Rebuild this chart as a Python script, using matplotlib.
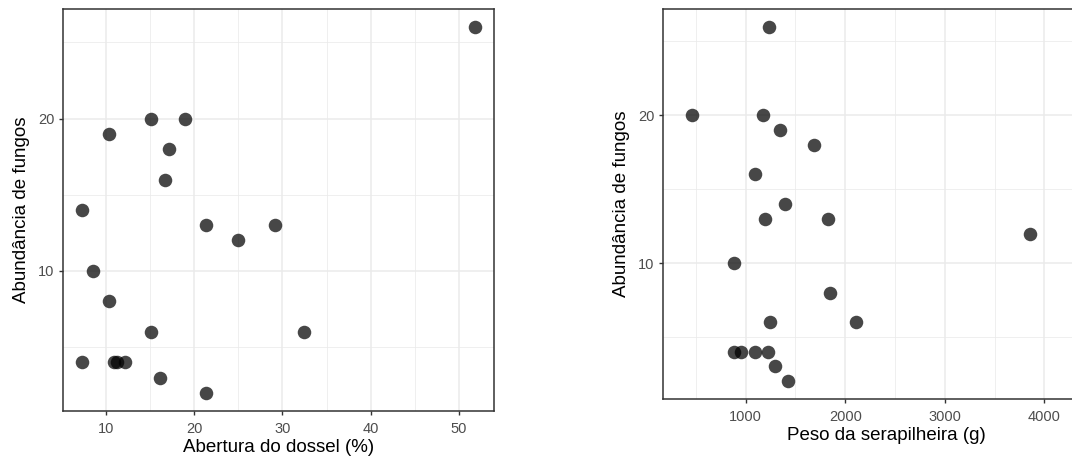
import matplotlib.pyplot as plt
from matplotlib.ticker import MultipleLocator

plt.rcParams['font.family'] = ['Liberation Sans', 'DejaVu Sans']

# data
abundancia = [26, 20, 20, 19, 18, 16, 14, 13, 13, 12, 10, 8, 6, 6, 4, 4, 4, 4, 3, 2]
abertura = [51.8, 15.1, 18.9, 10.3, 17.1, 16.7, 7.3, 21.3, 29.2, 24.9,
            8.5, 10.3, 15.1, 32.4, 7.3, 10.9, 11.2, 12.1, 16.1, 21.3]
abund_peso = [26, 20, 20, 19, 18, 16, 14, 13, 13, 12, 10, 8, 6, 6, 4, 4, 4, 4, 3, 2]
peso = [1234, 461, 1171, 1345, 1686, 1094, 1395, 1191, 1830, 3858,
        886, 1850, 1241, 2108, 886, 953, 1094, 1224, 1298, 1429]

W, H = 1072, 461
fig = plt.figure(figsize=(W/100, H/100), dpi=100)

def style(ax):
    ax.set_facecolor('white')
    for s in ax.spines.values():
        s.set_color('#333333')
        s.set_linewidth(1.1)
    ax.grid(which='major', color='#ebebeb', linewidth=1.1, zorder=0)
    ax.grid(which='minor', color='#ebebeb', linewidth=0.55, zorder=0)
    ax.set_axisbelow(True)
    ax.tick_params(which='major', length=3, width=1.0, color='#333333',
                   labelcolor='#4d4d4d', labelsize=10.5, pad=3)
    ax.tick_params(axis='x', which='major', pad=5)
    ax.tick_params(which='minor', length=0)
    ax.yaxis.set_major_locator(MultipleLocator(10))
    ax.yaxis.set_minor_locator(MultipleLocator(5))
    ax.set_ylim(0.8, 27.2)
    ax.set_ylabel('Abundância de fungos', fontsize=13.5, color='black', labelpad=6)

# left panel
ax1 = fig.add_axes([63/W, 1-411/H, (494-63)/W, (411-9)/H])
style(ax1)
ax1.scatter(abertura, abundancia, s=95, color='black', alpha=0.72, linewidths=0, zorder=3)
ax1.xaxis.set_major_locator(MultipleLocator(10))
ax1.xaxis.set_minor_locator(MultipleLocator(5))
ax1.set_xlim(5.1, 54.0)
ax1.set_xlabel('Abertura do dossel (%)', fontsize=13.5, color='black', labelpad=2)

# right panel (cut off at the right edge)
right_px = 1110
ax2 = fig.add_axes([663/W, 1-399/H, (right_px-663)/W, (399-9)/H])
style(ax2)
ax2.spines['right'].set_visible(False)
ax2.scatter(peso, abund_peso, s=95, color='black', alpha=0.72, linewidths=0, zorder=3)
ax2.xaxis.set_major_locator(MultipleLocator(1000))
ax2.xaxis.set_minor_locator(MultipleLocator(500))
ax2.set_xlim(170, 170 + (right_px-663)/0.0996)
ax2.set_xlabel('Peso da serapilheira (g)', fontsize=13.5, color='black', labelpad=2)

fig.savefig('out.png', dpi=100)
